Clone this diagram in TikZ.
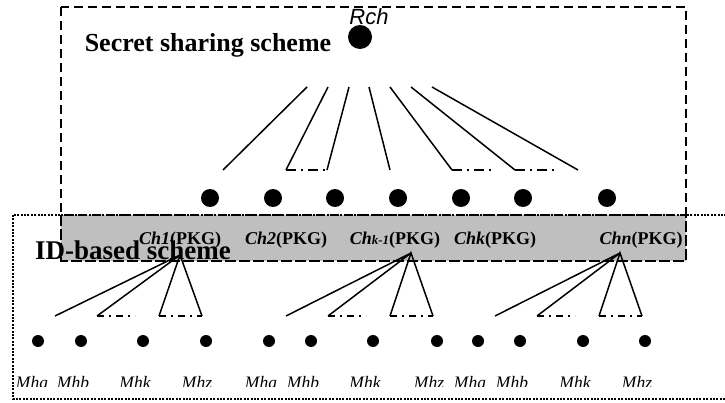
\documentclass[tikz,border=0pt]{standalone}
\usepackage{fontspec}
\setmainfont{Liberation Serif}
\newfontfamily\rchfont{Liberation Sans}
\usetikzlibrary{calc}

\begin{document}
\begin{tikzpicture}[x=1pt,y=-1pt,
  bigdot/.style={circle,fill=black,inner sep=0pt,minimum size=24pt},
  chdot/.style={circle,fill=black,inner sep=0pt,minimum size=18pt},
  mdot/.style={circle,fill=black,inner sep=0pt,minimum size=12pt},
  chlabel/.style={font=\fontsize{18}{20}\selectfont\bfseries,inner sep=0pt,anchor=base},
  mlabel/.style={font=\fontsize{17.5}{19}\selectfont\itshape,inner sep=0pt,anchor=base},
  title/.style={font=\fontsize{26}{28}\selectfont\bfseries,inner sep=0pt,anchor=base},
  link/.style={line width=1.5pt},
  dashdot/.style={line width=1.5pt,dash pattern=on 10pt off 5pt on 2pt off 5pt},
  smalldashdot/.style={line width=1.5pt,dash pattern=on 7pt off 5pt on 2pt off 5pt},
  boxdash/.style={line width=2.2pt,dash pattern=on 9pt off 5pt},
  boxdot/.style={line width=2pt,dash pattern=on 2pt off 1.4pt}]
  \useasboundingbox (0,0) rectangle (725,403);

  % Boxes
  \draw[boxdash,fill=gray!50] (61,215) rectangle (686,261);
  \draw[boxdot] (13,215) rectangle (745,399);
  \draw[boxdash] (61,7) rectangle (686,261);

  % Titles
  \node[title] (sss) at (208,52) {Secret sharing scheme};
  \node[title,font=\fontsize{27}{29}\selectfont\bfseries] (ibs) at (133,260) {ID-based scheme};

  % Root
  \node[bigdot] (Rch) at (360,37) {};
  \node[font=\rchfont\fontsize{22}{24}\selectfont\itshape,inner sep=0pt,anchor=base] (Rchlbl) at (369,25) {Rch};

  % Share holders
  \node[chdot] (c1) at (210,198) {};
  \node[chdot] (c2) at (273,198) {};
  \node[chdot] (c3) at (335,198) {};
  \node[chdot] (c4) at (398,198) {};
  \node[chdot] (c5) at (461,198) {};
  \node[chdot] (c6) at (523,198) {};
  \node[chdot] (c7) at (607,198) {};

  \node[chlabel] (ch1) at (180,244) {\textit{Ch1}(PKG)};
  \node[chlabel] (ch2) at (286,244) {\textit{Ch2}(PKG)};
  \node[chlabel] (chk1) at (395,244) {\textit{Ch{\fontsize{13}{14}\selectfont k-1}}(PKG)};
  \node[chlabel] (chk) at (495,244) {\textit{Chk}(PKG)};
  \node[chlabel] (chn) at (641,244) {\textit{Chn}(PKG)};

  % Upper fan
  \coordinate (t1) at (307,87);
  \coordinate (t2) at (328,87);
  \coordinate (t3) at (349,87);
  \coordinate (t4) at (369,87);
  \coordinate (t5) at (390,87);
  \coordinate (t6) at (411,87);
  \coordinate (t7) at (432,87);
  \coordinate (b1) at (223,170);
  \coordinate (b2) at (286,170);
  \coordinate (b3) at (327,170);
  \coordinate (b4) at (390,170);
  \coordinate (b5) at (452,170);
  \coordinate (b6) at (515,170);
  \coordinate (b7) at (578,170);
  \coordinate (e5) at (493,170);
  \coordinate (e6) at (555,170);

  \draw[link] (t1) -- (b1);
  \draw[link] (t2) -- (b2);
  \draw[link] (t3) -- (b3);
  \draw[link] (t4) -- (b4);
  \draw[link] (t5) -- (b5);
  \draw[link] (t6) -- (b6);
  \draw[link] (t7) -- (b7);
  \draw[dashdot] (b2) -- (b3);
  \draw[dashdot] (b5) -- (e5);
  \draw[dashdot] (b6) -- (e6);

  % Lower fans
  \coordinate (p1) at (180,255);
  \coordinate (p2) at (411,253);
  \coordinate (p3) at (620,253);

  \coordinate (q1a) at (55,316);
  \coordinate (q1b) at (97,316);
  \coordinate (q1c) at (135,316);
  \coordinate (q1k) at (159,316);
  \coordinate (q1z) at (202,316);
  \coordinate (q2a) at (286,316);
  \coordinate (q2b) at (328,316);
  \coordinate (q2c) at (366,316);
  \coordinate (q2k) at (390,316);
  \coordinate (q2z) at (433,316);
  \coordinate (q3a) at (495,316);
  \coordinate (q3b) at (537,316);
  \coordinate (q3c) at (575,316);
  \coordinate (q3k) at (599,316);
  \coordinate (q3z) at (642,316);

  \draw[link] (q1a) -- (p1) -- (q1b);
  \draw[link] (q1k) -- (p1) -- (q1z);
  \draw[smalldashdot] (q1b) -- (q1c);
  \draw[smalldashdot] (q1k) -- (q1z);
  \draw[link] (q2a) -- (p2) -- (q2b);
  \draw[link] (q2k) -- (p2) -- (q2z);
  \draw[smalldashdot] (q2b) -- (q2c);
  \draw[smalldashdot] (q2k) -- (q2z);
  \draw[link] (q3a) -- (p3) -- (q3b);
  \draw[link] (q3k) -- (p3) -- (q3z);
  \draw[smalldashdot] (q3b) -- (q3c);
  \draw[smalldashdot] (q3k) -- (q3z);

  % Members
  \node[mdot] (m1a) at (38,341) {};
  \node[mdot] (m1b) at (81,341) {};
  \node[mdot] (m1k) at (143,341) {};
  \node[mdot] (m1z) at (206,341) {};
  \node[mdot] (m2a) at (269,341) {};
  \node[mdot] (m2b) at (311,341) {};
  \node[mdot] (m2k) at (373,341) {};
  \node[mdot] (m2z) at (437,341) {};
  \node[mdot] (m3a) at (478,341) {};
  \node[mdot] (m3b) at (520,341) {};
  \node[mdot] (m3k) at (583,341) {};
  \node[mdot] (m3z) at (645,341) {};

  \begin{scope}
    \clip (0,0) rectangle (725,386);
    \node[mlabel] (l1a) at (32,388.5) {Mha};
    \node[mlabel] (l1b) at (73,388.5) {Mhb};
    \node[mlabel] (l1k) at (135,388.5) {Mhk};
    \node[mlabel] (l1z) at (197,388.5) {Mhz};
    \node[mlabel] (l2a) at (261,388.5) {Mha};
    \node[mlabel] (l2b) at (303,388.5) {Mhb};
    \node[mlabel] (l2k) at (365,388.5) {Mhk};
    \node[mlabel] (l2z) at (429,388.5) {Mhz};
    \node[mlabel] (l3a) at (470,388.5) {Mha};
    \node[mlabel] (l3b) at (512,388.5) {Mhb};
    \node[mlabel] (l3k) at (575,388.5) {Mhk};
    \node[mlabel] (l3z) at (637,388.5) {Mhz};
  \end{scope}
\end{tikzpicture}
\end{document}
